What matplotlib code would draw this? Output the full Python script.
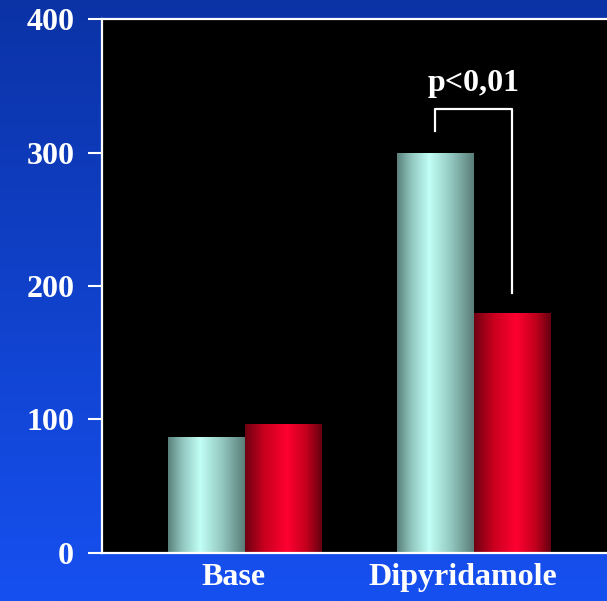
"""Bar chart: Base vs Dipyridamole, shaded cylinder bars on a blue slide."""

import numpy as np
import matplotlib
matplotlib.use("Agg")
import matplotlib.pyplot as plt
from matplotlib.colors import LinearSegmentedColormap

categories = ["Base", "Dipyridamole"]
series_cyan = [87, 300]
series_red = [97, 180]
y_ticks = [0, 100, 200, 300, 400]
sig_label = "p<0,01"

plt.rcParams["font.family"] = ["Liberation Serif", "DejaVu Serif"]
plt.rcParams["font.weight"] = "bold"

fig = plt.figure(figsize=(6.07, 6.01), dpi=100)

# slide background gradient
bg = fig.add_axes([0, 0, 1, 1])
bg_cmap = LinearSegmentedColormap.from_list("bg", ["#0b33a6", "#1650f0"])
bg.imshow(np.linspace(0, 1, 256).reshape(-1, 1), cmap=bg_cmap, aspect="auto",
          extent=(0, 1, 0, 1), origin="upper")
bg.set_axis_off()

ax = fig.add_axes([0.168, 0.080, 0.832, 0.888])
ax.set_facecolor("black")

cyan_cmap = LinearSegmentedColormap.from_list(
    "cyan", [(0, "#5a807b"), (0.18, "#8fc4bd"), (0.42, "#c2fff6"),
             (0.72, "#8fc4bd"), (1, "#5a7d78")])
red_cmap = LinearSegmentedColormap.from_list(
    "red", [(0, "#6e0012"), (0.25, "#c8001e"), (0.55, "#ff0030"),
            (0.8, "#c2001c"), (1, "#650010")])

x = np.arange(len(categories))
width = 0.336
bars_c = ax.bar(x - width / 2, series_cyan, width, color="none")
bars_r = ax.bar(x + width / 2, series_red, width, color="none")

grad = np.linspace(0, 1, 256).reshape(1, -1)
for bars, cmap in [(bars_c, cyan_cmap), (bars_r, red_cmap)]:
    for p in bars:
        x0, y0 = p.get_x(), p.get_y()
        im = ax.imshow(grad, cmap=cmap, aspect="auto", zorder=2,
                       extent=(x0, x0 + p.get_width(), y0, y0 + p.get_height()))
        im.set_clip_path(p)

ax.set_xlim(-0.624, 1.581)
ax.set_ylim(0, 400)

# significance bracket on the Dipyridamole group
xl, xr = 1 - width / 2, 1 + width / 2
ax.plot([xl, xl, xr, xr], [316, 333, 333, 195], color="white", lw=1.6, zorder=3)
ax.text((xl + xr) / 2, 346, sig_label, color="white", fontsize=23,
        ha="center", va="baseline")

ax.set_yticks(y_ticks)
ax.set_yticklabels([str(t) for t in y_ticks])
ax.set_xticks(x - 0.048)
ax.set_xticklabels(categories)
ax.tick_params(axis="y", colors="white", labelsize=23, length=10, width=1.5, pad=10)
ax.tick_params(axis="x", colors="white", labelsize=23, length=0, pad=7)
for lbl in ax.get_yticklabels() + ax.get_xticklabels():
    lbl.set_fontweight("bold")

for side in ["left", "top", "bottom"]:
    ax.spines[side].set_color("white")
    ax.spines[side].set_linewidth(1.6)
ax.spines["right"].set_visible(False)

fig.savefig("out.png", dpi=100, facecolor="#1040c8")
